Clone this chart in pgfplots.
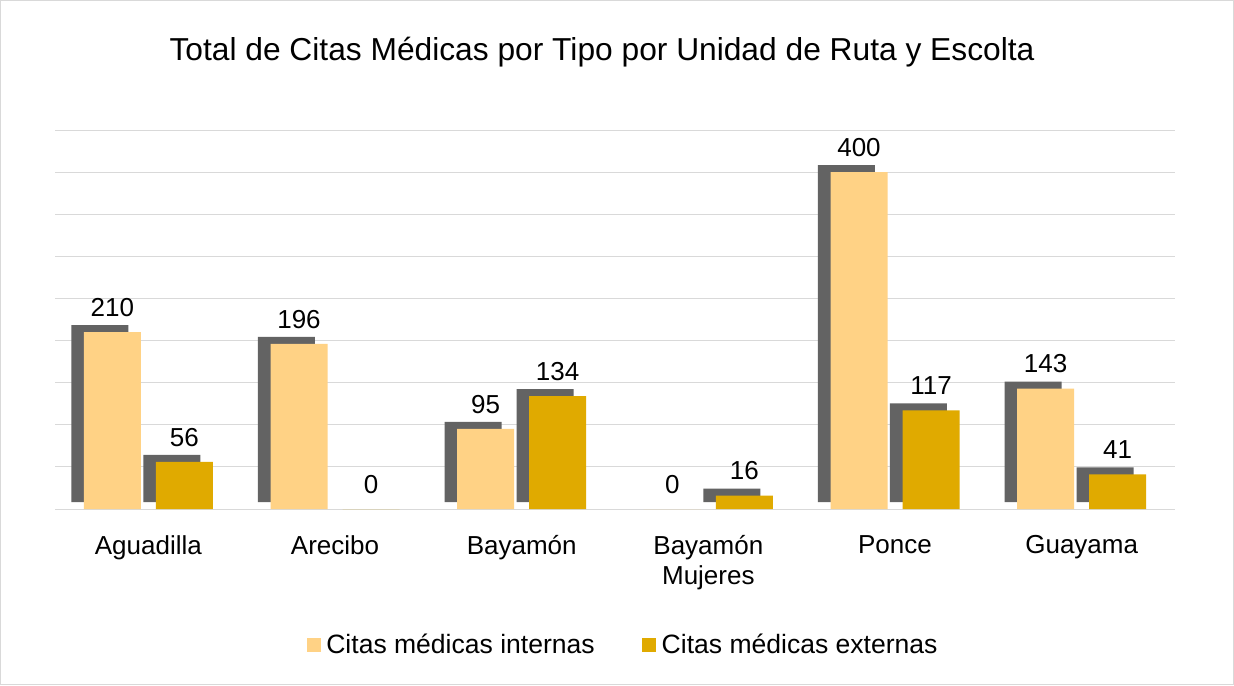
\documentclass[border=0pt]{standalone}
\usepackage{pgfplots}
\pgfplotsset{compat=1.18}
\usepackage{fontspec}
\setmainfont{Liberation Sans}
\definecolor{light}{HTML}{FFD285}
\definecolor{dark}{HTML}{E0AA00}
\definecolor{shadowc}{HTML}{636363}
\definecolor{gridc}{HTML}{D9D9D9}
\pgfplotstableread{
x int ext
0 210 56
1 196 0
2 95 134
3 0 16
4 400 117
5 143 41
}\datatab
\begin{document}
\begin{tikzpicture}
\path[draw=gridc, line width=0.75pt, fill=white] (0.375pt,0.375pt) rectangle (925.125pt,513.375pt);
\node[anchor=base, inner sep=0pt, font=\fontsize{23.8}{28}\selectfont] at (451.5pt,468.5pt) {Total de Citas Médicas por Tipo por Unidad de Ruta y Escolta};
\begin{axis}[
 at={(41.25pt,132pt)}, anchor=south west,
 width=840pt, height=284.25pt, scale only axis,
 xmin=-0.5, xmax=5.5, ymin=0, ymax=450,
 clip=false,
 /pgf/number format/assume math mode=true,
 ytick={0,50,...,450}, yticklabels={}, ymajorgrids,
 grid style={gridc, line width=0.75pt},
 major y tick style={draw=none},
 axis x line*=bottom, axis y line*=left,
 y axis line style={draw=none},
 x axis line style={gridc, line width=0.75pt},
 xtick={0,...,5},
 xticklabels={Aguadilla,Arecibo,Bayamón,{Bayamón\\Mujeres},Ponce,Guayama},
 major x tick style={draw=none},
 major tick length=0pt,
 xticklabel style={align=center, anchor=north, inner sep=0pt, yshift=-19.5pt, font=\fontsize{19.5}{22.5}\selectfont},
 extra x ticks={-0.5,0.5,...,5.5}, extra x tick labels={},
 extra x tick style={grid=none, tick align=outside, major tick length=5.25pt, major tick style={draw=gridc, line width=0.75pt}},
 legend style={at={(0.5075,-0.359)}, anchor=center, draw=none, fill=none, legend columns=2,
   font=\fontsize{19.9}{22}\selectfont,
   /tikz/every even column/.append style={column sep=33.5pt}},
 every node near coord/.append style={font=\fontsize{19.5}{22}\selectfont, text=black},
]
% shadows
\addplot[ybar, bar width=42.75pt, bar shift=-36.4pt, fill=shadowc, draw=none, yshift=5.25pt, forget plot, restrict y to domain=0.5:1000] table[x=x,y=int] {\datatab};
\addplot[ybar, bar width=42.75pt, bar shift=17.6pt, fill=shadowc, draw=none, yshift=5.25pt, forget plot, restrict y to domain=0.5:1000] table[x=x,y=ext] {\datatab};
% bars
\addplot[ybar, bar width=42.75pt, bar shift=-27pt, fill=light, draw=none,
  nodes near coords, nodes near coords align={anchor=center, xshift=-27pt, yshift=18.5pt},
  legend image code/.code={\fill[light] (0pt,-5.25pt) rectangle (10.5pt,5.25pt); \path (12.75pt,0pt);}]
  table[x=x,y=int] {\datatab};
\addlegendentry{Citas médicas internas}
\addplot[ybar, bar width=42.75pt, bar shift=27pt, fill=dark, draw=none,
  nodes near coords, nodes near coords align={anchor=center, xshift=27pt, yshift=18.5pt},
  legend image code/.code={\fill[dark] (0pt,-5.25pt) rectangle (10.5pt,5.25pt); \path (12.75pt,0pt);}]
  table[x=x,y=ext] {\datatab};
\addlegendentry{Citas médicas externas}
\end{axis}
\end{tikzpicture}
\end{document}
